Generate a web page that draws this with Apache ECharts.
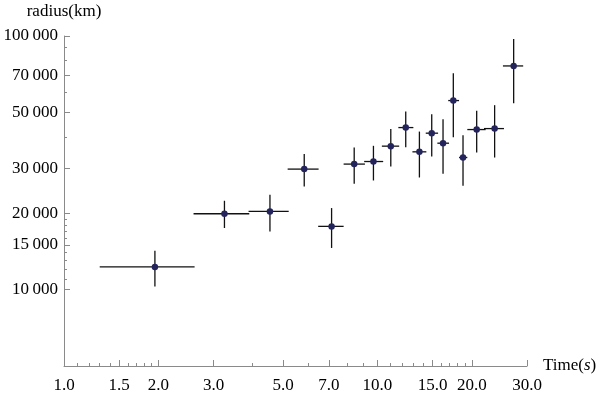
<!DOCTYPE html>
<html>
<head>
<meta charset="utf-8">
<script src="https://cdn.jsdelivr.net/npm/echarts@6/dist/echarts.min.js"></script>
<style>html,body{margin:0;padding:0;background:#fff;}#c{width:600px;height:394px;}</style>
</head>
<body>
<div id="c"></div>
<script>
// Data (time in s, radius in km) with error bounds
var timeVals   = [1.95, 3.25, 4.54, 5.84, 7.14, 8.43, 9.71, 11.03, 12.31, 13.61, 14.9, 16.19, 17.46, 18.75, 20.73, 23.65, 27.2];
var timeLo     = [1.30, 2.59, 3.88, 5.17, 6.47, 7.80, 9.07, 10.33, 11.66, 12.93, 14.26, 15.53, 16.82, 18.21, 19.35, 21.87, 25.14];
var timeHi     = [2.61, 3.90, 5.21, 6.49, 7.80, 9.12, 10.43, 11.73, 13.02, 14.32, 15.61, 16.92, 18.21, 19.35, 22.14, 25.33, 29.17];
var radiusVals = [12290, 19920, 20340, 29870, 17760, 31260, 32000, 36790, 43550, 34940, 41390, 37790, 55650, 33190, 42770, 43150, 76200];
var radiusLo   = [10300, 17500, 16960, 25510, 14600, 26140, 26940, 30590, 36460, 27680, 33470, 28620, 39930, 25670, 34720, 33180, 54330];
var radiusHi   = [14240, 22410, 23660, 34230, 20970, 36330, 36900, 43030, 50350, 42000, 49170, 46990, 71320, 40640, 50680, 53370, 97320];

var xMajorTicks = [1, 1.5, 2, 3, 5, 7, 10, 15, 20, 30];
var xMinorTicks = [1.1, 1.2, 1.3, 1.4, 1.6, 1.7, 1.8, 1.9, 4, 6, 8, 9, 11, 12, 13, 14, 16, 17, 18, 19];
var yMajorTicks = [10000, 15000, 20000, 30000, 50000, 70000, 100000];
var yMinorTicks = [11000, 12000, 13000, 14000, 16000, 17000, 18000, 19000, 40000, 60000, 80000, 90000];

var FONT = 'Liberation Serif';
var AXIS_COLOR = '#8a8a8a';

function fmtThousands(v) {
  return String(Math.round(v)).replace(/\B(?=(\d{3})+(?!\d))/g, '\u2009');
}

var errData = timeVals.map(function (t, i) {
  return [t, radiusVals[i], timeLo[i], timeHi[i], radiusLo[i], radiusHi[i]];
});
var ptData = timeVals.map(function (t, i) { return [t, radiusVals[i]]; });

var chart = echarts.init(document.getElementById('c'));
chart.setOption({
  animation: false,
  backgroundColor: '#fff',
  grid: { left: 64, right: 73, top: 36, bottom: 27, containLabel: false },
  xAxis: [{
    type: 'log', logBase: 10, min: 1, max: 30,
    position: 'bottom',
    name: 'Time({i|s})',
    nameLocation: 'end', nameGap: 16,
    nameTextStyle: { fontFamily: FONT, fontSize: 17, color: '#000', verticalAlign: 'middle',
      rich: { i: { fontFamily: FONT, fontSize: 17, fontStyle: 'italic', color: '#000' } } },
    axisLine: { show: true, lineStyle: { color: AXIS_COLOR, width: 1 } },
    axisTick: { show: true, inside: true, length: 6, customValues: xMajorTicks, lineStyle: { color: AXIS_COLOR } },
    axisLabel: { show: true, customValues: xMajorTicks, margin: 11, fontFamily: FONT, fontSize: 17, color: '#000',
      formatter: function (v) { return Number(v).toFixed(1); } },
    splitLine: { show: false }, minorTick: { show: false }
  }, {
    type: 'log', logBase: 10, min: 1, max: 30,
    position: 'bottom',
    axisLine: { show: false },
    axisTick: { show: true, inside: true, length: 3, customValues: xMinorTicks, lineStyle: { color: AXIS_COLOR } },
    axisLabel: { show: false },
    splitLine: { show: false }
  }],
  yAxis: [{
    type: 'log', logBase: 10, min: 5000, max: 100000,
    position: 'left',
    name: 'radius(km)',
    nameLocation: 'end', nameGap: 16,
    nameTextStyle: { fontFamily: FONT, fontSize: 17, color: '#000' },
    axisLine: { show: true, lineStyle: { color: AXIS_COLOR, width: 1 } },
    axisTick: { show: true, inside: true, length: 6, customValues: yMajorTicks, lineStyle: { color: AXIS_COLOR } },
    axisLabel: { show: true, customValues: yMajorTicks, margin: 6, fontFamily: FONT, fontSize: 17, color: '#000',
      formatter: function (v) { return fmtThousands(v); } },
    splitLine: { show: false }, minorTick: { show: false }
  }, {
    type: 'log', logBase: 10, min: 5000, max: 100000,
    position: 'left',
    axisLine: { show: false },
    axisTick: { show: true, inside: true, length: 3, customValues: yMinorTicks, lineStyle: { color: AXIS_COLOR } },
    axisLabel: { show: false },
    splitLine: { show: false }
  }],
  series: [{
    type: 'custom',
    xAxisIndex: 0, yAxisIndex: 0,
    data: errData,
    renderItem: function (params, api) {
      var x = api.value(0), y = api.value(1);
      var xl = api.value(2), xh = api.value(3), yl = api.value(4), yh = api.value(5);
      var pL = api.coord([xl, y]), pR = api.coord([xh, y]);
      var pB = api.coord([x, yl]), pT = api.coord([x, yh]);
      var st = { stroke: '#111', lineWidth: 1.3 };
      return {
        type: 'group',
        children: [
          { type: 'line', shape: { x1: pL[0], y1: pL[1], x2: pR[0], y2: pR[1] }, style: st },
          { type: 'line', shape: { x1: pB[0], y1: pB[1], x2: pT[0], y2: pT[1] }, style: st }
        ]
      };
    },
    encode: { x: 0, y: 1 },
    z: 2
  }, {
    type: 'scatter',
    xAxisIndex: 0, yAxisIndex: 0,
    data: ptData,
    symbol: 'circle', symbolSize: 6.5,
    itemStyle: { color: '#24245c', opacity: 1 },
    z: 3
  }]
});
</script>
</body>
</html>
